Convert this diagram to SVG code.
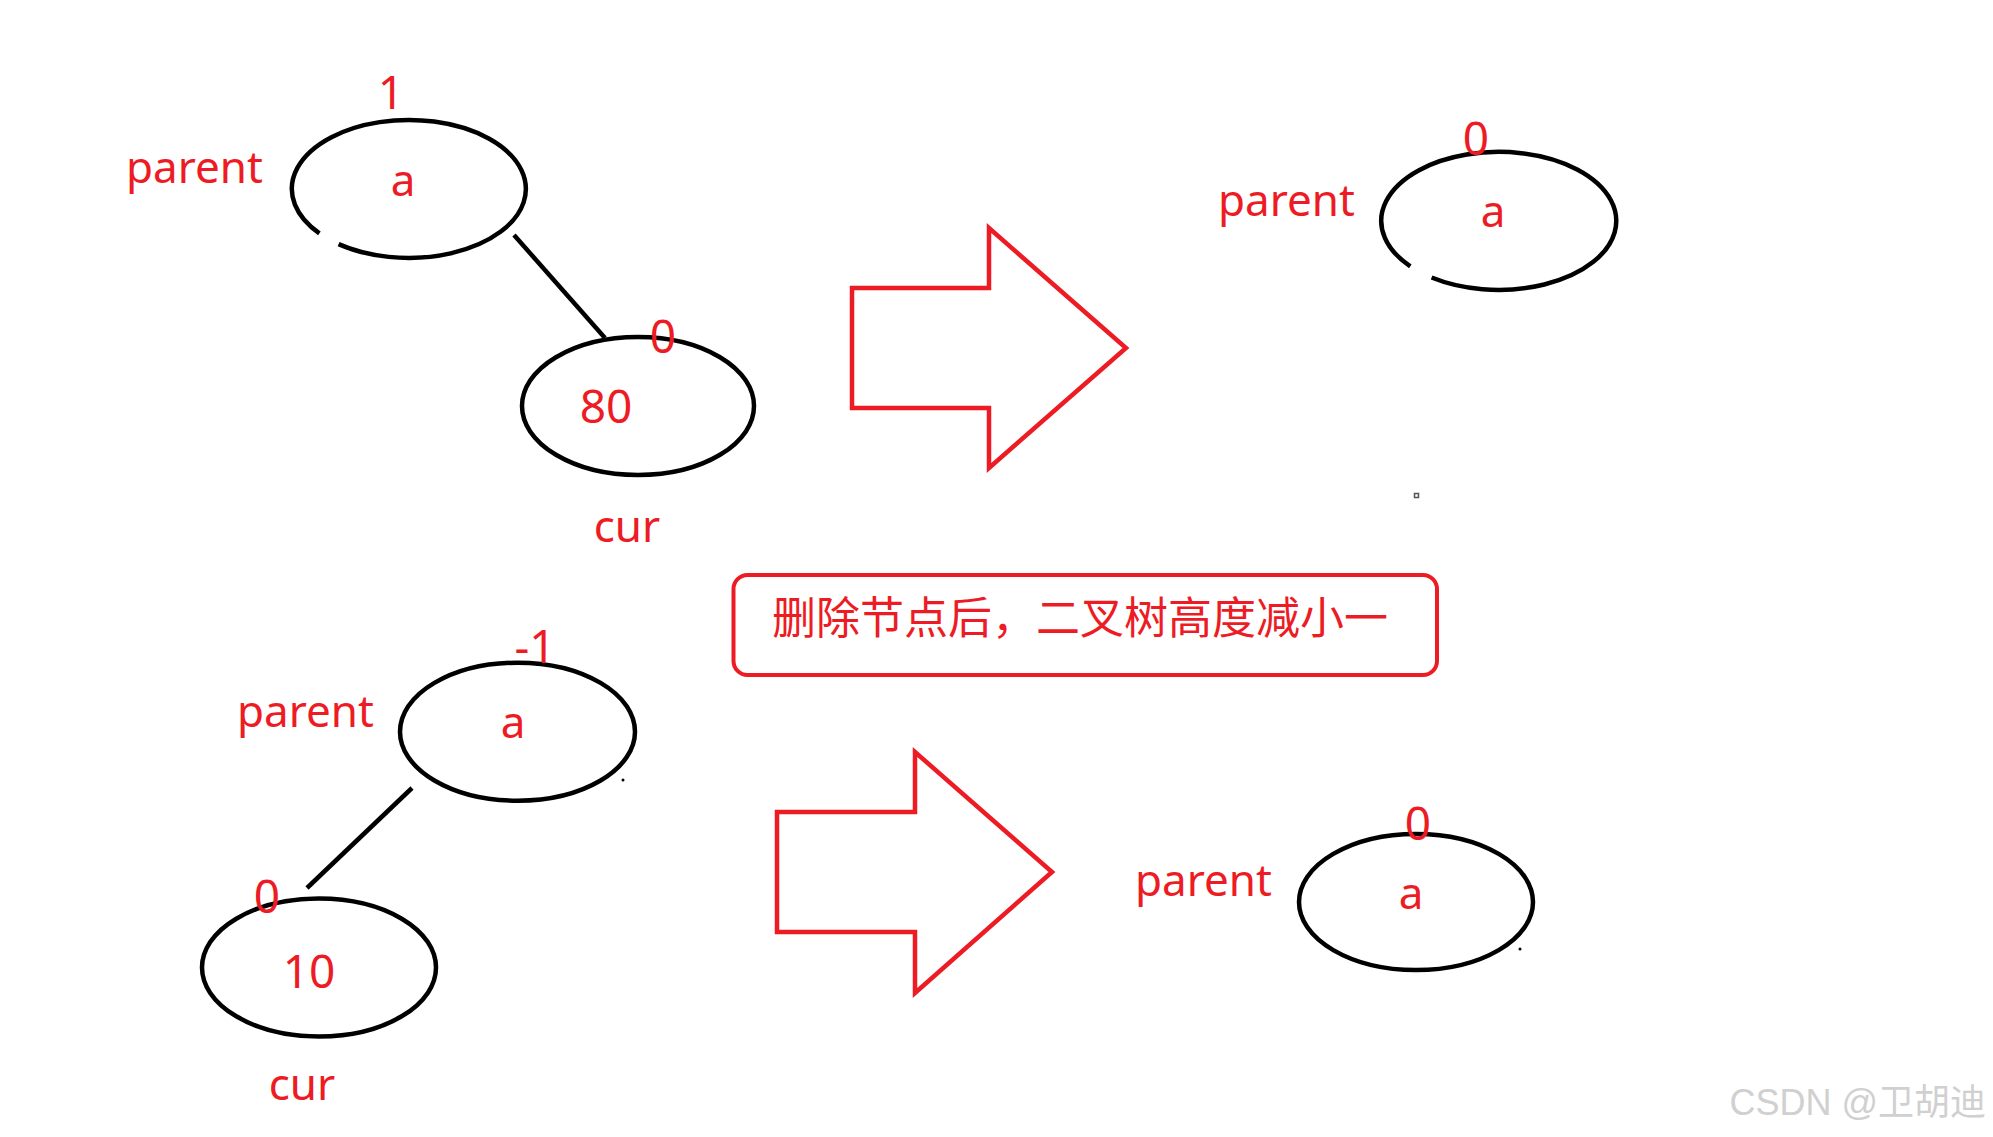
<svg xmlns="http://www.w3.org/2000/svg" width="1993" height="1137" viewBox="0 0 1993 1137">
<style>
.node{fill:none;stroke:#000;stroke-width:4.5}
.lbl{font-family:"Noto Sans","Liberation Sans",sans-serif;font-size:44px;fill:#ed1c24}
.num{font-size:46px}
.mid{text-anchor:middle}
.edge{stroke:#000;stroke-width:4.5;fill:none}
.arrow{fill:none;stroke:#ed1c24;stroke-width:4.5;stroke-linejoin:miter}
</style>
<rect width="1993" height="1137" fill="#fff"/>
<g id="connectors">
  <line class="edge" x1="514" y1="235" x2="605" y2="338"/>
  <line class="edge" x1="412" y1="788" x2="307" y2="888"/>
</g>
<g id="node-parent-top">
  <path class="node" d="M 338.6 244.1 A 117 69 0 1 0 319.4 233.4"/>
  <text class="lbl mid" x="403" y="196">a</text>
  <text class="lbl num mid" x="391" y="109">1</text>
  <text class="lbl" x="126" y="183">parent</text>
</g>
<g id="node-cur-80">
  <ellipse class="node" cx="638" cy="406" rx="116" ry="69"/>
  <text class="lbl num mid" x="606" y="423">80</text>
  <text class="lbl num mid" x="663" y="353">0</text>
  <text class="lbl mid" x="627" y="542">cur</text>
</g>
<g id="arrow-top">
  <polygon class="arrow" points="852,288 989,288 989,228 1126,348 989,468 989,408 852,408"/>
</g>
<g id="node-parent-top-right">
  <path class="node" d="M 1431.6 277.5 A 117.5 69 0 1 0 1410.3 266.3"/>
  <text class="lbl mid" x="1493" y="227">a</text>
  <text class="lbl num mid" x="1476" y="155">0</text>
  <text class="lbl" x="1218" y="216">parent</text>
  <rect x="1414.5" y="493.5" width="4" height="4" fill="none" stroke="#555" stroke-width="1.5"/>
</g>
<g id="note-box">
  <rect x="733.5" y="575" width="703.5" height="100" rx="14" fill="none" stroke="#ed1c24" stroke-width="4"/>
  <text class="mid" x="1080" y="634" style="font-family:'Noto Sans CJK SC','Noto Sans',sans-serif;font-size:44px;fill:#ed1c24">删除节点后，二叉树高度减小一</text>
</g>
<g id="node-parent-bottom">
  <ellipse class="node" cx="517.5" cy="731.7" rx="117.5" ry="69"/>
  <text class="lbl mid" x="513" y="738">a</text>
  <text class="lbl num mid" x="535" y="663">-1</text>
  <text class="lbl" x="237" y="727">parent</text>
  <circle cx="623" cy="780" r="1.5" fill="#000"/>
</g>
<g id="node-cur-10">
  <ellipse class="node" cx="319" cy="967.5" rx="117" ry="69"/>
  <text class="lbl num mid" x="309" y="988">10</text>
  <text class="lbl num mid" x="267" y="913">0</text>
  <text class="lbl mid" x="302" y="1100">cur</text>
</g>
<g id="arrow-bottom">
  <polygon class="arrow" points="777,812 915,812 915,752 1052,872 915,993 915,932 777,932"/>
</g>
<g id="node-parent-bottom-right">
  <ellipse class="node" cx="1416" cy="902" rx="117" ry="68"/>
  <text class="lbl mid" x="1411" y="909">a</text>
  <text class="lbl num mid" x="1418" y="840">0</text>
  <text class="lbl" x="1135" y="896">parent</text>
  <circle cx="1520" cy="949" r="1.5" fill="#000"/>
</g>
<text x="1986" y="1115" text-anchor="end" style="font-family:'Liberation Sans','Noto Sans CJK SC',sans-serif;font-size:36px;fill:#d0d0d0">CSDN @卫胡迪</text>
</svg>
